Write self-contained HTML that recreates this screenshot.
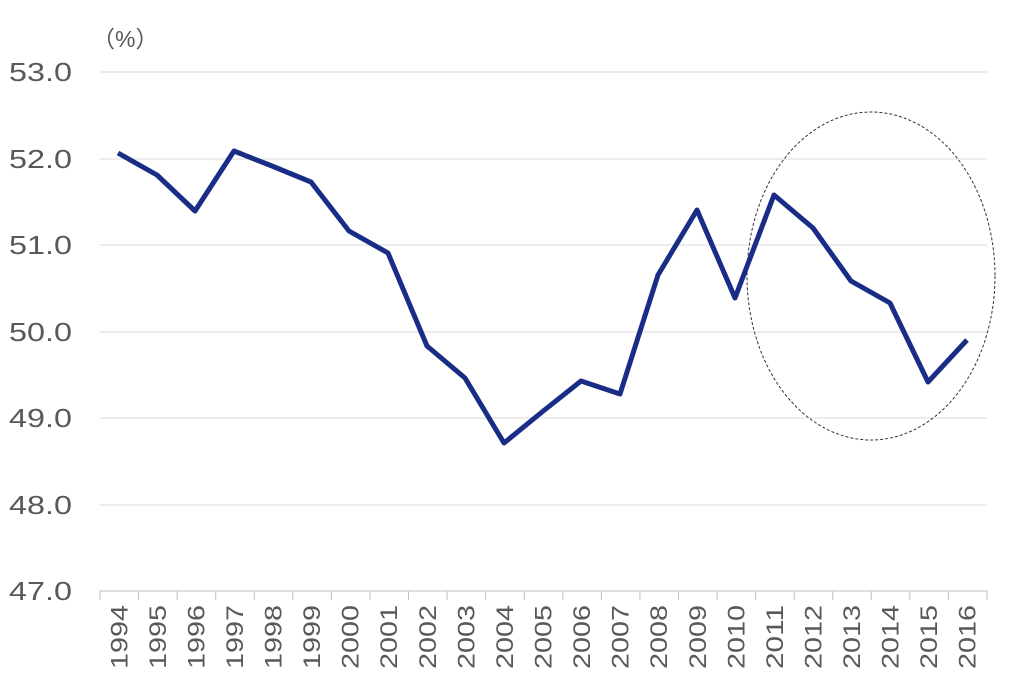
<!DOCTYPE html>
<html><head><meta charset="utf-8"><style>body{margin:0;background:#fff}</style></head><body>
<svg width="1012" height="687" xmlns="http://www.w3.org/2000/svg" font-family="Liberation Sans, DejaVu Sans, sans-serif">
<g stroke="#d9d9d9" stroke-width="1">
<line x1="100" y1="72" x2="987" y2="72"/><line x1="100" y1="159" x2="987" y2="159"/><line x1="100" y1="245" x2="987" y2="245"/><line x1="100" y1="332" x2="987" y2="332"/><line x1="100" y1="418" x2="987" y2="418"/><line x1="100" y1="505" x2="987" y2="505"/>
</g>
<line x1="100" y1="591" x2="987" y2="591" stroke="#bfbfbf"/>
<g id="ticks" stroke="#bfbfbf"></g>
<g fill="#595959" font-size="26" text-anchor="end">
<text x="72" y="81" textLength="63" lengthAdjust="spacingAndGlyphs">53.0</text><text x="72" y="168" textLength="63" lengthAdjust="spacingAndGlyphs">52.0</text><text x="72" y="254" textLength="63" lengthAdjust="spacingAndGlyphs">51.0</text><text x="72" y="341" textLength="63" lengthAdjust="spacingAndGlyphs">50.0</text><text x="72" y="427" textLength="63" lengthAdjust="spacingAndGlyphs">49.0</text><text x="72" y="514" textLength="63" lengthAdjust="spacingAndGlyphs">48.0</text><text x="72" y="600" textLength="63" lengthAdjust="spacingAndGlyphs">47.0</text>
</g>
<text x="92" y="47" fill="#595959" font-size="23" font-family="Liberation Sans, Noto Sans CJK JP, sans-serif">（%）</text>
<g id="xl" fill="#595959" font-size="24"></g>
<ellipse cx="871" cy="276" rx="124" ry="164" fill="none" stroke="#333" stroke-width="1" stroke-dasharray="3,2"/>
<polyline fill="none" stroke="#1a2d86" stroke-width="5" stroke-linejoin="round" points="118,153 157,175 195,211 234,151 272,166 311,182 349,231 388,253 427,346 465,378 504,443 542,412 581,381 620,394 658,275 697,210 735,298 774,195 813,228 851,281 890,303 928,382 967,340"/>
</svg>
<script>
var ns="http://www.w3.org/2000/svg",t=document.getElementById("ticks"),xl=document.getElementById("xl");
for(var i=0;i<=23;i++){var x=100+i*887/23;var l=document.createElementNS(ns,"line");l.setAttribute("x1",x);l.setAttribute("x2",x);l.setAttribute("y1",591);l.setAttribute("y2",600);t.appendChild(l);}
for(var i=0;i<23;i++){var x=100+(i+0.5)*887/23+8;var e=document.createElementNS(ns,"text");e.setAttribute("transform","translate("+x+",669) rotate(-90)");e.setAttribute("textLength","64");e.setAttribute("lengthAdjust","spacingAndGlyphs");e.textContent=1994+i;xl.appendChild(e);}
</script>
</body></html>
